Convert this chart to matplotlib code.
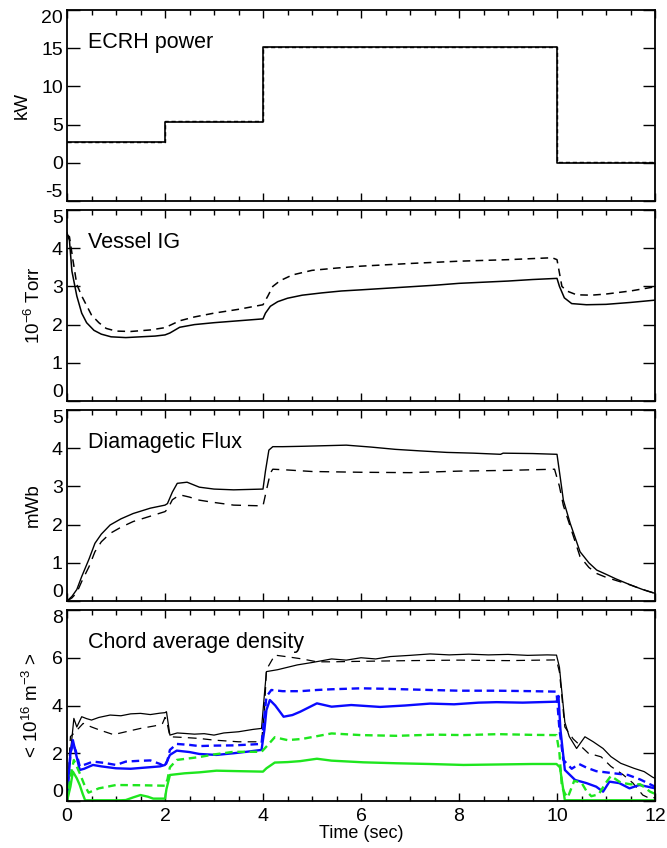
import matplotlib
matplotlib.use("Agg")
import matplotlib.pyplot as plt
from matplotlib.ticker import FixedLocator, MultipleLocator

plt.rcParams['font.family'] = ['Liberation Sans', 'DejaVu Sans']
plt.rcParams['mathtext.fontset'] = 'custom'
plt.rcParams['mathtext.rm'] = 'Liberation Sans'
plt.rcParams['mathtext.it'] = 'Liberation Sans:italic'
plt.rcParams['mathtext.bf'] = 'Liberation Sans:bold'
plt.rcParams['axes.unicode_minus'] = False

# ---------------- ECRH power (kW), step levels ----------------
power_t = [0, 2, 4, 10, 12]
power_a = [2.75, 5.4, 15.12, 0.03, 0.03]
power_b = [2.77, 5.43, 15.22, 0.04, 0.04]

# ---------------- Vessel ion gauge (1e-6 Torr) ----------------
ig_solid_t = [0, 0.05, 0.1, 0.2, 0.3, 0.4, 0.55, 0.7, 0.9, 1.2, 1.5, 1.8, 2.0, 2.1, 2.3,
              2.6, 3.0, 3.5, 4.0, 4.05, 4.15, 4.3, 4.5, 4.8, 5.2, 5.6, 6.0, 6.5, 7.0, 7.5,
              8.0, 8.5, 9.0, 9.5, 10.0, 10.05, 10.15, 10.3, 10.6, 11.0, 11.5, 12.0]
ig_solid_v = [4.4, 4.2, 3.4, 2.75, 2.3, 2.05, 1.85, 1.75, 1.68, 1.66, 1.68, 1.7, 1.73, 1.78,
              1.93, 2.0, 2.05, 2.1, 2.15, 2.3, 2.48, 2.6, 2.69, 2.77, 2.83, 2.88, 2.91, 2.95,
              2.99, 3.03, 3.08, 3.11, 3.14, 3.18, 3.21, 3.0, 2.7, 2.55, 2.52, 2.53, 2.58, 2.64]
ig_dash_t = [0, 0.05, 0.12, 0.2, 0.3, 0.4, 0.5, 0.65, 0.8, 1.0, 1.3, 1.7, 2.0, 2.1, 2.3,
             2.6, 3.0, 3.5, 4.0, 4.1, 4.2, 4.35, 4.6, 5.0, 5.5, 6.0, 7.0, 8.0, 9.0, 9.9,
             10.0, 10.1, 10.2, 10.4, 10.7, 11.0, 11.5, 12.0]
ig_dash_v = [4.35, 4.3, 3.7, 3.05, 2.75, 2.5, 2.25, 2.05, 1.9, 1.83, 1.82, 1.86, 1.92, 1.98,
             2.1, 2.2, 2.3, 2.4, 2.52, 2.75, 3.0, 3.15, 3.3, 3.42, 3.48, 3.53, 3.6, 3.66,
             3.7, 3.75, 3.7, 3.0, 2.88, 2.78, 2.77, 2.8, 2.88, 2.99]

# ---------------- Diamagnetic flux (mWb) ----------------
flux_solid_t = [0, 0.1, 0.2, 0.3, 0.45, 0.57, 0.7, 0.88, 1.1, 1.35, 1.7, 2.0, 2.05, 2.15,
                2.25, 2.45, 2.7, 3.0, 3.4, 4.0, 4.05, 4.12, 4.2, 4.4, 4.8, 5.4, 5.7, 6.2,
                6.7, 7.2, 7.75, 8.3, 8.85, 8.9, 9.5, 10.0, 10.07, 10.13, 10.27, 10.47,
                10.65, 10.81, 11.0, 11.2, 11.5, 11.75, 12.0]
flux_solid_v = [0, 0.12, 0.3, 0.64, 1.1, 1.51, 1.75, 1.99, 2.15, 2.29, 2.43, 2.51, 2.55,
                2.85, 3.08, 3.11, 2.98, 2.93, 2.91, 2.93, 3.4, 3.95, 4.04, 4.04, 4.05, 4.07,
                4.08, 4.03, 3.97, 3.93, 3.89, 3.87, 3.84, 3.87, 3.86, 3.84, 3.2, 2.64, 2.03,
                1.29, 1.0, 0.81, 0.7, 0.58, 0.42, 0.3, 0.2]
flux_dash_t = [0, 0.1, 0.2, 0.3, 0.45, 0.57, 0.7, 0.88, 1.1, 1.35, 1.7, 2.0, 2.05, 2.15,
               2.3, 2.5, 2.7, 3.0, 3.4, 4.0, 4.07, 4.15, 4.2, 4.5, 5.0, 6.0, 7.0, 8.0, 9.0,
               9.95, 10.05, 10.13, 10.27, 10.47, 10.65, 10.81, 11.0, 11.2, 11.5, 11.75, 12.0]
flux_dash_v = [0, 0.08, 0.22, 0.51, 0.9, 1.29, 1.55, 1.77, 1.93, 2.08, 2.22, 2.34, 2.4,
               2.65, 2.78, 2.72, 2.64, 2.58, 2.51, 2.49, 2.9, 3.35, 3.45, 3.43, 3.39, 3.37,
               3.36, 3.4, 3.42, 3.45, 3.0, 2.5, 1.95, 1.16, 0.88, 0.72, 0.62, 0.54, 0.42,
               0.3, 0.2]

# ---------------- Chord average density (1e16 m^-3) ----------------
ne_k_solid_t = [0, 0.07, 0.14, 0.2, 0.3, 0.4, 0.5, 0.65, 0.88, 1.1, 1.3, 1.5, 1.7, 1.9,
                2.0, 2.03, 2.1, 2.25, 2.4, 2.6, 2.8, 3.0, 3.2, 3.5, 3.8, 3.97, 4.03, 4.07,
                4.3, 4.5, 4.7, 5.0, 5.4, 5.7, 6.0, 6.3, 6.6, 7.0, 7.41, 7.8, 8.2, 8.6, 9.0,
                9.4, 9.8, 9.99, 10.05, 10.16, 10.25, 10.4, 10.57, 10.74, 10.94, 11.1, 11.3,
                11.57, 11.78, 11.95, 12.0]
ne_k_solid_v = [0, 2.0, 3.46, 3.1, 3.53, 3.45, 3.39, 3.5, 3.6, 3.57, 3.65, 3.67, 3.62,
                3.68, 3.70, 3.74, 2.76, 2.85, 2.83, 2.8, 2.82, 2.76, 2.85, 2.9, 3.0, 3.04,
                4.5, 5.42, 5.5, 5.6, 5.7, 5.8, 5.95, 5.9, 6.0, 5.95, 6.05, 6.1, 6.16, 6.12,
                6.15, 6.12, 6.14, 6.1, 6.12, 6.11, 5.6, 3.3, 2.7, 2.2, 2.69, 2.48, 2.2,
                1.86, 1.58, 1.37, 1.23, 1.0, 0.95]
ne_k_dash_t = [0, 0.07, 0.14, 0.33, 0.5, 0.67, 0.95, 1.2, 1.5, 1.8, 1.95, 2.0, 2.05, 2.1,
               2.4, 2.7, 3.0, 3.5, 3.97, 4.03, 4.07, 4.24, 4.5, 4.8, 5.1, 5.4, 6.0, 7.0,
               8.0, 9.0, 9.99, 10.05, 10.16, 10.33, 10.64, 10.9, 11.1, 11.35, 11.55,
               11.75, 11.9, 12.0]
ne_k_dash_v = [0, 2.7, 2.83, 3.25, 3.1, 2.97, 2.78, 2.9, 3.04, 3.15, 3.25, 3.5, 3.2, 2.69,
               2.66, 2.62, 2.55, 2.48, 2.48, 3.8, 5.5, 6.11, 6.04, 5.95, 5.83, 5.83, 5.85,
               5.88, 5.9, 5.88, 5.91, 5.4, 3.1, 2.6, 2.0, 1.85, 1.45, 1.1, 0.75, 0.25,
               0.1, 0.15]

ne_b_solid_t = [0, 0.07, 0.12, 0.18, 0.26, 0.35, 0.53, 0.7, 1.0, 1.3, 1.6, 1.9, 2.0,
                2.05, 2.1, 2.24, 2.5, 2.7, 3.05, 3.4, 3.7, 3.97, 4.03, 4.07, 4.14, 4.25,
                4.42, 4.6, 4.76, 5.1, 5.4, 5.8, 6.39, 6.9, 7.41, 7.9, 8.4, 8.77, 9.3, 9.99,
                10.03, 10.07, 10.16, 10.37, 10.6, 10.8, 10.94, 11.07, 11.27, 11.48, 11.68,
                11.85, 12.0]
ne_b_solid_v = [0, 2.0, 2.55, 2.0, 1.30, 1.35, 1.51, 1.45, 1.37, 1.35, 1.4, 1.45, 1.51,
                1.7, 1.93, 2.11, 2.05, 1.97, 1.93, 2.0, 2.07, 2.14, 3.0, 3.81, 4.23, 4.0,
                3.53, 3.6, 3.74, 4.09, 3.95, 4.02, 3.94, 4.0, 4.08, 4.05, 4.12, 4.14, 4.12,
                4.16, 4.4, 3.0, 1.30, 0.88, 0.75, 0.6, 0.39, 0.81, 0.75, 0.53, 0.67, 0.6,
                0.53]
ne_b_dash_t = [0, 0.07, 0.12, 0.18, 0.26, 0.4, 0.53, 0.75, 1.0, 1.2, 1.45, 1.7, 1.9, 2.0,
               2.05, 2.1, 2.24, 2.5, 2.7, 3.0, 3.4, 3.7, 3.97, 4.03, 4.07, 4.17, 4.4, 4.76,
               5.1, 5.4, 6.0, 6.5, 7.41, 8.0, 8.77, 9.5, 9.99, 10.05, 10.13, 10.3, 10.45,
               10.6, 10.8, 11.0, 11.2, 11.45, 11.7, 11.9, 12.0]
ne_b_dash_v = [0, 2.0, 2.4, 2.1, 1.45, 1.55, 1.65, 1.6, 1.51, 1.65, 1.68, 1.7, 1.55, 1.44,
               1.7, 2.14, 2.39, 2.35, 2.3, 2.32, 2.33, 2.36, 2.39, 3.6, 4.37, 4.65, 4.6,
               4.6, 4.65, 4.68, 4.72, 4.7, 4.65, 4.62, 4.62, 4.6, 4.58, 3.0, 1.72, 1.35,
               1.55, 1.4, 1.25, 1.2, 1.15, 1.09, 0.9, 0.7, 0.6]

ne_g_solid_t = [0, 0.07, 0.12, 0.2, 0.26, 0.32, 0.37, 1.1, 1.2, 1.35, 1.5, 1.65, 1.76,
                2.0, 2.03, 2.1, 2.4, 2.7, 3.05, 3.5, 4.0, 4.07, 4.24, 4.5, 4.76, 5.1, 5.4,
                6.05, 6.73, 7.4, 8.09, 8.8, 9.5, 9.99, 10.06, 10.16, 12.0]
ne_g_solid_v = [0, 0.6, 1.23, 0.95, 0.67, 0.3, 0.03, 0.03, 0.04, 0.15, 0.25, 0.18, 0.1,
                0.1, 0.5, 1.09, 1.16, 1.2, 1.27, 1.25, 1.23, 1.37, 1.61, 1.63, 1.67, 1.77,
                1.69, 1.62, 1.58, 1.55, 1.51, 1.53, 1.55, 1.55, 1.41, 0.03, 0.03]
ne_g_dash_t = [0, 0.07, 0.14, 0.26, 0.35, 0.44, 0.65, 1.0, 1.5, 2.0, 2.05, 2.1, 2.24, 2.7,
               3.0, 3.4, 3.97, 4.07, 4.24, 4.5, 4.8, 5.4, 6.0, 6.73, 7.5, 8.09, 8.8, 9.5,
               9.99, 10.05, 10.1, 10.16, 10.22, 10.35, 10.5, 10.6, 10.7, 10.85, 11.0,
               11.1, 11.3, 11.5, 11.7, 11.9, 12.0]
ne_g_dash_v = [0, 1.0, 1.72, 1.16, 0.7, 0.35, 0.53, 0.67, 0.66, 0.64, 0.9, 1.41, 1.72,
               1.84, 1.95, 2.06, 2.06, 2.28, 2.67, 2.55, 2.6, 2.83, 2.76, 2.73, 2.78, 2.76,
               2.8, 2.77, 2.76, 2.0, 0.6, 0.32, 0.15, 0.84, 0.77, 0.42, 0.2, 0.28, 0.77,
               1.05, 0.77, 0.7, 0.7, 0.39, 0.3]

panel_titles = ["ECRH power", "Vessel IG", "Diamagetic Flux", "Chord average density"]
panel_ylabels = ["kW", r"10$^{-6}$ Torr", "mWb", r"< 10$^{16}$ m$^{-3}$ >"]
panel_yticks = [[-5, 0, 5, 10, 15, 20], [0, 1, 2, 3, 4, 5], [0, 1, 2, 3, 4, 5],
                [0, 2, 4, 6, 8]]
x_ticks = [0, 2, 4, 6, 8, 10, 12]

BLUE = '#0a0aff'
GREEN = '#1ee61e'

W, H = 667, 848
fig = plt.figure(figsize=(W / 100, H / 100), dpi=100)

left_px, right_px = 67, 655
tops_px = [10, 210, 410, 610]
panel_h = 191

axes = []
for i, top in enumerate(tops_px):
    ax = fig.add_axes([left_px / W, 1 - (top + panel_h) / H,
                       (right_px - left_px) / W, panel_h / H])
    axes.append(ax)

ax1, ax2, ax3, ax4 = axes

# ECRH power
ax1.step(power_t, power_a, where='post', color='black', lw=1.2)
ax1.step(power_t, power_b, where='post', color='black', lw=1.0, ls=(0, (3, 2)))

# vessel pressure
ax2.plot(ig_solid_t, ig_solid_v, color='black', lw=1.1)
ax2.plot(ig_dash_t, ig_dash_v, color='black', lw=1.1, dashes=(5, 3.5))

# diamagnetic flux
ax3.plot(flux_solid_t, flux_solid_v, color='black', lw=1.0)
ax3.plot(flux_dash_t, flux_dash_v, color='black', lw=1.0, dashes=(7, 5))

# chord density
ax4.plot(ne_k_solid_t, ne_k_solid_v, color='black', lw=0.9)
ax4.plot(ne_k_dash_t, ne_k_dash_v, color='black', lw=0.9, dashes=(7, 5))
ax4.plot(ne_b_solid_t, ne_b_solid_v, color=BLUE, lw=1.7)
ax4.plot(ne_b_dash_t, ne_b_dash_v, color=BLUE, lw=1.7, dashes=(3.2, 2))
ax4.plot(ne_g_solid_t, ne_g_solid_v, color=GREEN, lw=1.7)
ax4.plot(ne_g_dash_t, ne_g_dash_v, color=GREEN, lw=1.7, dashes=(3.2, 2))

label_right_px = [31, 44, 42, 42]
for i, ax in enumerate(axes):
    ax.set_xlim(0, 12)
    yt = panel_yticks[i]
    ax.set_ylim(yt[0], yt[-1])
    ax.yaxis.set_major_locator(FixedLocator(yt))
    ax.xaxis.set_major_locator(FixedLocator(x_ticks))
    ax.xaxis.set_minor_locator(MultipleLocator(0.5))
    ax.tick_params(axis='both', which='both', direction='in', top=True, right=True,
                   width=1.0, labelsize=14, colors='black')
    ax.tick_params(axis='x', which='major', length=6, pad=5)
    ax.tick_params(axis='x', which='minor', length=3.5)
    ax.tick_params(axis='y', which='major', length=9, pad=3)
    ax.tick_params(axis='y', which='minor', left=False, right=False)
    for sp in ax.spines.values():
        sp.set_linewidth(1.3)
    if i < 3:
        ax.tick_params(axis='x', labelbottom=False)
    ax.set_ylabel(panel_ylabels[i], fontsize=13.5)
    ax.yaxis.set_label_coords((label_right_px[i] - left_px) / (right_px - left_px), 0.5)
    ax.text(0.036, 0.83, panel_titles[i], transform=ax.transAxes, fontsize=15.5,
            ha='left', va='center')
    labels = ax.get_yticklabels()
    labels[0].set_va('bottom')
    labels[-1].set_va('top')

ax4.set_xlabel("Time (sec)", fontsize=13, labelpad=0)

fig.savefig("out.png", dpi=100)
